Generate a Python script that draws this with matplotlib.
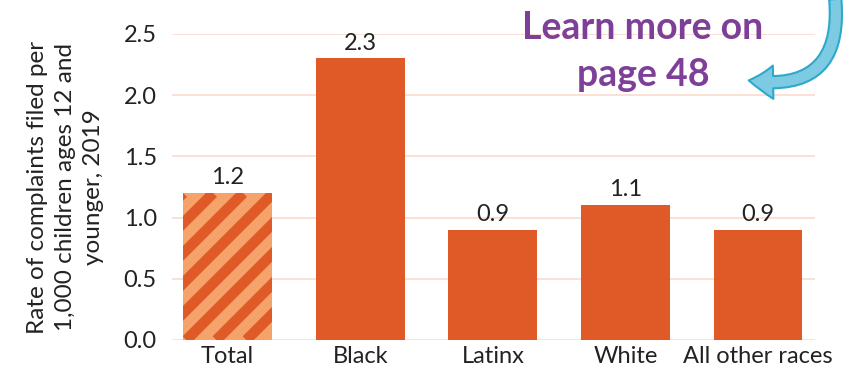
import numpy as np
import matplotlib
matplotlib.use("Agg")
import matplotlib.pyplot as plt
from matplotlib.lines import Line2D
from matplotlib.patches import FancyArrowPatch
from matplotlib.transforms import IdentityTransform

# ----------------------------------------------------
# Data
# ----------------------------------------------------
categories = ["Total", "Black", "Latinx", "White", "All other races"]
rates = [1.2, 2.3, 0.9, 1.1, 0.9]
value_labels = ["1.2", "2.3", "0.9", "1.1", "0.9"]
y_ticks = [0.0, 0.5, 1.0, 1.5, 2.0, 2.5]

ORANGE = "#E05A27"
LIGHT_ORANGE = "#F5A36B"
GRID = "#FBDCCD"
PURPLE = "#7D3F98"
CYAN = "#2EA8CC"
TEXT = "#222222"

plt.rcParams["font.family"] = ["Lato", "DejaVu Sans"]

W, H = 854, 367
fig = plt.figure(figsize=(W / 100, H / 100), dpi=100)
ax = fig.add_axes([172 / W, 1 - 340 / H, (815 - 172) / W, (340 - 34) / H])

x = np.arange(len(categories))
colors = [LIGHT_ORANGE] + [ORANGE] * (len(categories) - 1)
bars = ax.bar(x, rates, width=0.67, color=colors, zorder=2)

ax.set_xlim(-0.42, len(categories) - 1 + 0.43)
ax.set_ylim(0, 2.5)
ax.set_autoscale_on(False)

for xi, v, lab in zip(x, rates, value_labels):
    ax.text(xi, v + 0.04, lab, ha="center", va="bottom", fontsize=17, color=TEXT)

ax.set_yticks(y_ticks)
ax.set_yticklabels([f"{t:.1f}" for t in y_ticks])
ax.set_xticks(x)
ax.set_xticklabels(categories)
ax.tick_params(axis="both", length=0, labelsize=17, labelcolor=TEXT)
ax.tick_params(axis="y", pad=11)
ax.tick_params(axis="x", pad=4)
ax.grid(axis="y", color=GRID, lw=1.2, zorder=0)
ax.set_axisbelow(True)
for s in ax.spines.values():
    s.set_visible(False)

ax.set_ylabel("Rate of complaints filed per\n1,000 children ages 12 and\nyounger, 2019",
              fontsize=17.5, color=TEXT, linespacing=1.42, labelpad=14)

# diagonal stripes on the "Total" bar
fig.canvas.draw()
bb = bars[0].get_window_extent()
period = 30
for off in np.arange(bb.x0 - bb.height - period, bb.x1 + period, period):
    ln = Line2D([off, off + bb.height], [bb.y0, bb.y1], transform=IdentityTransform(),
                color=ORANGE, lw=7.6, solid_capstyle="butt", zorder=3)
    ax.add_artist(ln)
    ln.set_clip_path(bars[0])

# callout
fig.text(643 / W, 1 - 28 / H, "Learn more on", ha="center", va="center",
         fontsize=27, fontweight="bold", color=PURPLE)
fig.text(643 / W, 1 - 75 / H, "page 48", ha="center", va="center",
         fontsize=27, fontweight="bold", color=PURPLE)

arrow = FancyArrowPatch((835 / W, 1.01), (746 / W, 1 - 80 / H),
                        transform=fig.transFigure,
                        connectionstyle="arc3,rad=-0.65",
                        arrowstyle="simple,head_length=1.1,head_width=1.5,tail_width=0.55",
                        mutation_scale=16, fc="#7CCBE2", ec=CYAN, lw=1.5)
fig.add_artist(arrow)

fig.savefig("out.png", dpi=100, facecolor="white")
